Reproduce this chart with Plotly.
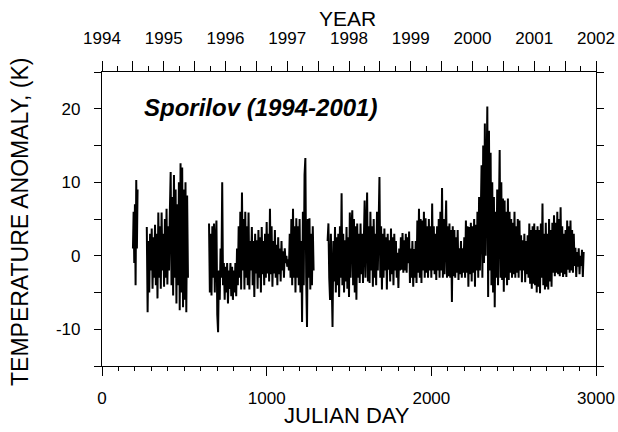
import numpy as np
import plotly.graph_objects as go

# ---- data: temperature anomaly (K) vs Julian day ----
seg_a_start, seg_a_step = 188, 4
seg_a_vals = [1, 6, -1, 7, -4, 10.3, 1, 9]

seg_b_start, seg_b_step = 272, 5
seg_b_vals = [3.9, -7.7, 2, -5, 3.0, -2, 3.7, -4.5, 2.5, -3, 4.2, -4, 3, -5.8, 5.9, -3,
              4, -4.5, 5.9, -2, 3, -4.2, 5, -3, 6.4, -3.9, 4, -2, 6, 11.4, -4, 8, -5.4,
              11, -3, 9, -6.5, 7, -4, 10, -7.4, 12.6, -5, 12, -7, 9, -6, 10, -7.7, 8.2, -3]

seg_c_start, seg_c_step = 650, 5
seg_c_vals = [4.4, -5, 3, -5.4, 4, -3, 4.4, -5, 2, 4.8, -8, -10.4, -2, -6, 1, -3, 10.0, -4,
              -1, -6, -1.5, -5, -1, -6.5, -2, -4.5, -1, -5.5, -1.5, -6, -2, -5, -1, -5.5,
              1, -4, 4, -3, 6, -4.6, 8.6, -2, 5, -4.6, 6, -3, 4, -4, 5.9, -4.6, 2, -2,
              3.9, -4, 2, -5.6, 3, -2.4, 2.1, -4.5, 3.5, -3, 2.5, -5, 3.9, -2.5, 2, -4,
              3, -3, 4.6, -2.4, 3, -3.5, 6.4, -2.5, 4, -4.2, 2, -2.4, 3.5, -3, 1.5, -4,
              2.5, -2.5, 1, -3.5, 2, -2, 0.6, -3, 1, -1, 0, -1.5, -0.5, -2, 3, -3, 5, -4,
              6.4, -3, 4, -5, 5.1, -3, 4, -4, 5, -5, 2, -9.0, 6, -4, 11, 13.3, -3, -9.7,
              5, -3, 5.1, -4.6, 3, -4, 4, -2]

seg_d_start, seg_d_step = 1370, 5
seg_d_vals = [2, 4.4, -3, -6, 3, -4, -9.7, 2, -3.5, 3.9, -5, 2.5, -4, 3, -5.6, 4, -3, 8.5,
              -4, 3, -5, 2.1, -3.5, 3.9, -4.5, 2.5, -5.6, 5.9, -3, 4, 6.2, -4, 5, -5, 4, -6,
              4.4, -3, 3, -3.7, 4.4, -2.5, 3, -3.7, 5, 7.5, -3, 5, 8.6, -3.5, 4, -3.7, 6, -2,
              4, -4.2, 5, -3, 3, -4, 6, -2, 7, 10.7, -3, 4, -4.6, 3, -3, 3.7, -2, 2.5, -4.6,
              3, -1.9, 2.1, -3.5, 3.7, -2.5, 2.5, -4, 3, -2, 2, -3, 0.4, -4.4, 1, -2, 2.5,
              -1.9, 3.1, -2.3, 2.1, -2, 3, -2.3, 2.5, -1, 3.3, -3.7, 1, -3, 2, -4.2, 0.9, -3,
              2, -3.7, 4.8, -2.3, 6.4, -3, 5, -3.7, 4.8, -2, 6, -3, 5.1, -2.3, 4, -3, 5, -2,
              4, -3, 7.1, -2, 4, -2.5, 3, -3.3, 4, -2, 5, -3, 6, -2, 9.2, -3, 5, -2.5, 6, 7.5,
              -3, 4, -2.8, 4.4, -3, 3.5, -6.3, 4, -2.8, 3.5, -3, 2.5, -2.3, 3.5, -3.3, 1,
              -2.5, 2, -3, 1, -2.3, 2.5, -3, 4.8, -2.3, 4, -4.2, 3.9, -2.5, 4.5, -3.5, 4,
              -2.3, 5, -4.2, 4.2, -2, 6, -3, 8, -2, 10, 12.3, -3, 15, -1, 18, 0, 16, 20.3,
              -5.6, 17, -2, 14, -4, 10, -5, 8, -7.0, 6, -3, 9, -4, 12, 14.4, -3, 10, -3.3,
              7.8, -4.9, 7.5, -3, 6, -4, 7.8, -3.3, 6, -2.3, 5, -3, 4.5, -2.5, 6, -3, 4,
              -2.3, 5, -3, 4.8, -2, 2.8, -3.6, 2.1, -2, 3, -3.6, 2, -2.5, 2.8, -3, 4.4, -3.8,
              3.5, -4.5, 4, -3.8, 4.4, -4, 3.5, -5, 4, -4.2, 3.5, -5.1, 4.4, -3, 7.1, -4, 3,
              -4.6, 4.5, -4.2, 3, -4.6, 5, -3.5, 3.5, -4.2, 4.5, -2.3, 5.5, -2.8, 4.5, -2.3,
              6, -2.5, 5, -2.8, 6.6, -2.3, 4, -2.9, 3, -2.5, 3.5, -2.9, 4.8, -1.9, 4, -2.3,
              4.8, -2, 3.5, -2.3, 3, -1.4, 1.1, -2.9, 0.5, -1.5, 1, -2.5, 0, -1.4, 0.8, -2.9,
              0.5]

segments = [(seg_a_start, seg_a_step, seg_a_vals),
            (seg_b_start, seg_b_step, seg_b_vals),
            (seg_c_start, seg_c_step, seg_c_vals),
            (seg_d_start, seg_d_step, seg_d_vals)]

x_ticks = [0, 1000, 2000, 3000]
y_tickvals = [-15, -10, -5, 0, 5, 10, 15, 20, 25]
y_ticktext = ["", "-10", "", "0", "", "10", "", "20", ""]
year_vals = [1994 + 0.5 * i for i in range(17)]
year_text = [str(int(v)) if v == int(v) else "" for v in year_vals]

FONT = "Arial, 'Liberation Sans', Helvetica, sans-serif"

# build the series with gaps (None) between measurement segments
xs, ys = [], []
for start, step, vals in segments:
    days = start + step * np.arange(len(vals))
    xs.extend(days.tolist())
    ys.extend(vals)
    xs.append(None)
    ys.append(None)

fig = go.Figure()
fig.add_trace(go.Scatter(x=xs, y=ys, mode="lines",
                         line=dict(color="black", width=2),
                         connectgaps=False, showlegend=False, hoverinfo="skip"))
# invisible trace to activate the top (year) axis
fig.add_trace(go.Scatter(x=[1994, 2002], y=[None, None], xaxis="x2", yaxis="y",
                         mode="lines", showlegend=False, hoverinfo="skip"))

L, R, T, B = 102, 22, 72, 66
W, H = 618, 432
pw, ph = W - L - R, H - T - B


def px(xp):
    return (xp - L) / pw


def py(yp):
    return 1 - (yp - T) / ph


fig.update_layout(
    width=W, height=H,
    margin=dict(l=L, r=R, t=T, b=B, autoexpand=False),
    paper_bgcolor="white", plot_bgcolor="white",
    font=dict(family=FONT, color="black"),
    xaxis=dict(range=[0, 3000], tickvals=x_ticks, ticks="outside", ticklen=9,
               tickwidth=1.2, tickcolor="black", showline=True, linecolor="black",
               linewidth=1.2, mirror=False, showgrid=False, zeroline=False,
               automargin=False, tickfont=dict(size=17), ticklabelstandoff=7,
               minor=dict(dtick=100, ticks="outside", ticklen=4, tickcolor="black",
                          tickwidth=1)),
    xaxis2=dict(range=[1994, 2002], overlaying="x", side="top", anchor="y",
                tickvals=year_vals, ticktext=year_text, ticks="outside", ticklen=10,
                tickwidth=1.2, tickcolor="black", showline=True, linecolor="black",
                linewidth=1.2, showgrid=False, zeroline=False, automargin=False,
                tickfont=dict(size=17), ticklabelstandoff=10,
                minor=dict(dtick=0.25, ticks="outside", ticklen=5, tickcolor="black",
                           tickwidth=1)),
    yaxis=dict(range=[-15, 25], tickvals=y_tickvals, ticktext=y_ticktext,
               ticks="outside", ticklen=7, tickwidth=1.2, tickcolor="black",
               showline=True, linecolor="black", linewidth=1.2, mirror="ticks",
               showgrid=False, zeroline=False, automargin=False,
               tickfont=dict(size=17), ticklabelstandoff=10),
    annotations=[
        dict(text="<b><i>Sporilov (1994-2001)</i></b>", x=px(260), y=py(107),
             xref="paper", yref="paper", showarrow=False,
             font=dict(size=24, family=FONT), xanchor="center", yanchor="middle"),
        dict(text="YEAR", x=px(347), y=py(18), xref="paper", yref="paper",
             showarrow=False, font=dict(size=21, family=FONT),
             xanchor="center", yanchor="middle"),
        dict(text="JULIAN DAY", x=px(347), y=py(415), xref="paper", yref="paper",
             showarrow=False, font=dict(size=22, family=FONT),
             xanchor="center", yanchor="middle"),
        dict(text="TEMPERATURE ANOMALY, (K)", x=px(20), y=py(222), xref="paper",
             yref="paper", showarrow=False, textangle=-90,
             font=dict(size=23, family=FONT), xanchor="center", yanchor="middle"),
    ],
)

fig.write_html("out.html")
